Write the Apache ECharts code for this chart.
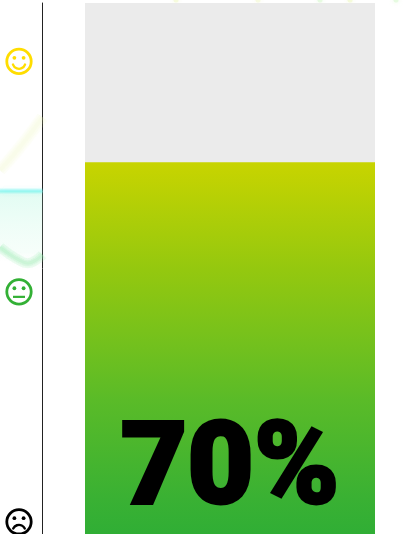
<!DOCTYPE html>
<html><head><meta charset="utf-8">
<style>html,body{margin:0;padding:0;background:#fff}#c{width:414px;height:534px}</style>
<script src="https://cdn.jsdelivr.net/npm/echarts@6/dist/echarts.min.js"></script>
</head><body><div id="c"></div>
<script>
const categories = ['Score'];
const scoreValues = [70];
const faceLevels = [89, 45.6, 2.3];
const faceKinds = ['happy', 'neutral', 'sad'];
const faceColors = ['#ffdd00', '#33b035', '#000000'];
// faint glow traces left of the axis: [x fraction, value]
const glowCyan = [[0, 64.6], [1, 64.6]];
const glowGreen = [[0, 54], [0.2, 52.8], [0.4, 51.8], [0.65, 51], [0.85, 51.6], [1, 52.6]];
const glowYellow = [[0, 68.5], [0.33, 71.5], [0.66, 74.8], [1, 78.5]];
// faint spots along the top edge: [x px, y]
const topSpots = [[176, '#f0f7c8'], [258, '#f2f8d0'], [320, '#d8f7d0'], [350, '#eef7c4'], [396, '#d8f7d0']];

function face(api, params) {
  const i = params.dataIndex;
  const p = api.coord([0, faceLevels[i]]);
  const cx = 19, cy = p[1], c = faceColors[i], k = faceKinds[i];
  const st = { fill: 'none', stroke: c, lineWidth: 2.8 };
  const ch = [
    { type: 'circle', shape: { cx, cy, r: 12.2 }, style: st },
    { type: 'circle', shape: { cx: cx - 4.6, cy: cy - 3.6, r: 1.9 }, style: { fill: c } },
    { type: 'circle', shape: { cx: cx + 4.6, cy: cy - 3.6, r: 1.9 }, style: { fill: c } }
  ];
  const m = { fill: 'none', stroke: c, lineWidth: 2.4, lineCap: 'round' };
  if (k === 'happy') ch.push({ type: 'arc', shape: { cx, cy: cy + 1, r: 6.4, startAngle: 0.35, endAngle: Math.PI - 0.35 }, style: m });
  if (k === 'neutral') ch.push({ type: 'line', shape: { x1: cx - 6, y1: cy + 5, x2: cx + 6, y2: cy + 5 }, style: { stroke: c, lineWidth: 2.2 } });
  if (k === 'sad') ch.push({ type: 'arc', shape: { cx, cy: cy + 9.5, r: 6.4, startAngle: Math.PI + 0.45, endAngle: -0.45 }, style: m });
  return { type: 'group', children: ch };
}

// one soft trace, layered from wide and pale to narrow
function glow(data, rgb, widths, alpha, extra) {
  return widths.map((w, i) => Object.assign({
    type: 'line', xAxisIndex: 1, yAxisIndex: 1, data, symbol: 'none', smooth: 0.4, silent: true, z: 1,
    lineStyle: { color: 'rgba(' + rgb + ',' + alpha + ')', width: w, shadowColor: 'rgba(' + rgb + ',' + alpha + ')', shadowBlur: 4 }
  }, i === 0 ? (extra || {}) : {}));
}

const chart = echarts.init(document.getElementById('c'), null, { renderer: 'canvas' });
chart.setOption({
  animation: false,
  backgroundColor: '#fff',
  grid: [
    { left: 85, right: 39, top: 3, bottom: 0 },
    { left: 0, width: 42.5, top: 3, bottom: 0 },
    { left: 0, right: 0, top: 0, height: 3 }
  ],
  xAxis: [
    { type: 'category', data: categories, gridIndex: 0, show: false },
    { type: 'value', gridIndex: 1, show: false, min: 0, max: 1 },
    { type: 'value', gridIndex: 2, show: false, min: 0, max: 414 }
  ],
  yAxis: [
    { type: 'value', min: 0, max: 100, gridIndex: 0, show: false },
    { type: 'value', min: 0, max: 100, gridIndex: 1, position: 'right',
      axisLine: { show: true, onZero: false, lineStyle: { color: '#222', width: 1 } },
      axisTick: { show: false }, axisLabel: { show: false }, splitLine: { show: false } },
    { type: 'value', min: 0, max: 1, gridIndex: 2, show: false }
  ],
  series: [
    { type: 'bar', data: scoreValues, barWidth: '100%', xAxisIndex: 0, yAxisIndex: 0, z: 2,
      showBackground: true, backgroundStyle: { color: '#ebebeb' },
      itemStyle: { color: new echarts.graphic.LinearGradient(0, 0, 0, 1, [
        { offset: 0, color: '#c8d400' }, { offset: 0.29, color: '#94c80f' },
        { offset: 0.64, color: '#5abb28' }, { offset: 0.9, color: '#3ab133' },
        { offset: 1, color: '#30ae35' } ]) },
      label: { show: true, position: 'insideBottom', distance: 2, formatter: '{c}%',
        color: '#000', fontFamily: 'Roboto', fontWeight: 900, fontSize: 115,
        textBorderColor: '#000', textBorderWidth: 3 } },
    ...glow(glowCyan, '120,245,240', [5, 3, 1.5], 0.3, {
      smooth: false,
      areaStyle: { origin: 'start', color: new echarts.graphic.LinearGradient(0, 0, 0, 1, [
        { offset: 0, color: 'rgba(170,247,220,0.5)' },
        { offset: 0.18, color: 'rgba(215,250,232,0.3)' },
        { offset: 0.21, color: 'rgba(255,255,255,0)' },
        { offset: 1, color: 'rgba(255,255,255,0)' } ]) }
    }),
    ...glow(glowGreen, '140,235,170', [10, 6, 3], 0.16),
    ...glow(glowYellow, '240,248,190', [12, 8, 4], 0.1),
    { type: 'scatter', xAxisIndex: 2, yAxisIndex: 2, symbolSize: 5, z: 1, silent: true,
      data: topSpots.map(s => ({ value: [s[0], 1], itemStyle: { color: s[1], opacity: 0.55, shadowColor: s[1], shadowBlur: 4 } })) },
    { type: 'custom', xAxisIndex: 1, yAxisIndex: 1, renderItem: (params, api) => face(api, params),
      data: faceLevels.map(v => [0, v]), clip: false, z: 3 }
  ]
});
</script></body></html>
